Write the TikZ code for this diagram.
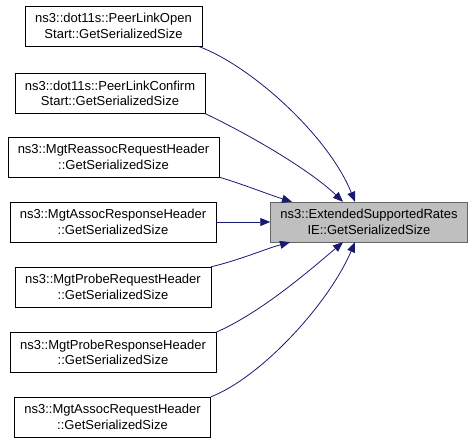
\documentclass[tikz,border=0pt]{standalone}
\definecolor{edgeblue}{RGB}{25, 25, 112}
\definecolor{calleegray}{RGB}{191, 191, 191}
\definecolor{calleeframe}{RGB}{102, 102, 102}
\usepackage{fontspec}
\setmainfont{Liberation Sans}
\usepackage{tikz}
\usetikzlibrary{positioning, arrows.meta, calc}

\begin{document}
\begin{tikzpicture}[x=1pt, y=-1pt,
    font=\fontsize{13}{15.5}\selectfont,
    caller/.style={draw=black, fill=white, align=center, inner xsep=10pt,
                   inner ysep=0pt, minimum height=40pt},
    callee/.style={caller, draw=calleeframe, fill=calleegray},
    call/.style={draw=edgeblue, line width=0.8pt,
                 -{Triangle[length=10pt, width=8pt]}}]
        \useasboundingbox (0,0) rectangle (475,444);
        % callers
        \foreach \nm/\x/\y/\lbl in {
            open/113.5/26/{ns3::dot11s::PeerLinkOpen\\Start::GetSerializedSize},
            confirm/110/93.5/{ns3::dot11s::PeerLinkConfirm\\Start::GetSerializedSize},
            reassoc/113.5/157/{ns3::MgtReassocRequestHeader\\::GetSerializedSize},
            assocresp/113/222/{ns3::MgtAssocResponseHeader\\::GetSerializedSize},
            probereq/113/287/{ns3::MgtProbeRequestHeader\\::GetSerializedSize},
            proberesp/113/352.5/{ns3::MgtProbeResponseHeader\\::GetSerializedSize},
            assocreq/112.5/417/{ns3::MgtAssocRequestHeader\\::GetSerializedSize}} {
          \node[caller] (\nm) at (\x, \y) {\lbl};
        }
        % callee
        \node[callee] (ext) at (369, 222)
              {ns3::ExtendedSupportedRates\\IE::GetSerializedSize};
        % calls from above
        \draw[call] ($(open.south east)+(-4,0)$)
              .. controls (250,65) and (328,135) .. ($(ext.north)+(-14,0)$);
        \draw[call] (confirm.south east)
              .. controls (250,135) and (310,170) .. ($(ext.north)+(-26,0)$);
        \draw[call] (reassoc.south east)
              .. controls (245,185) and (270,195) .. ($(ext.north)+(-77,0)$);
        \draw[call] (assocresp.east) -- (ext.west);
        % calls from below
        \draw[call] (probereq.north east)
              .. controls (240,260) and (265,249) .. ($(ext.south)+(-79,0)$);
        \draw[call] (proberesp.north east)
              .. controls (262,312) and (310,270) .. ($(ext.south)+(-26,0)$);
        \draw[call] (assocreq.north east)
              .. controls (260,378) and (328,305) .. ($(ext.south)+(-14,0)$);
      \end{tikzpicture}
\end{document}
